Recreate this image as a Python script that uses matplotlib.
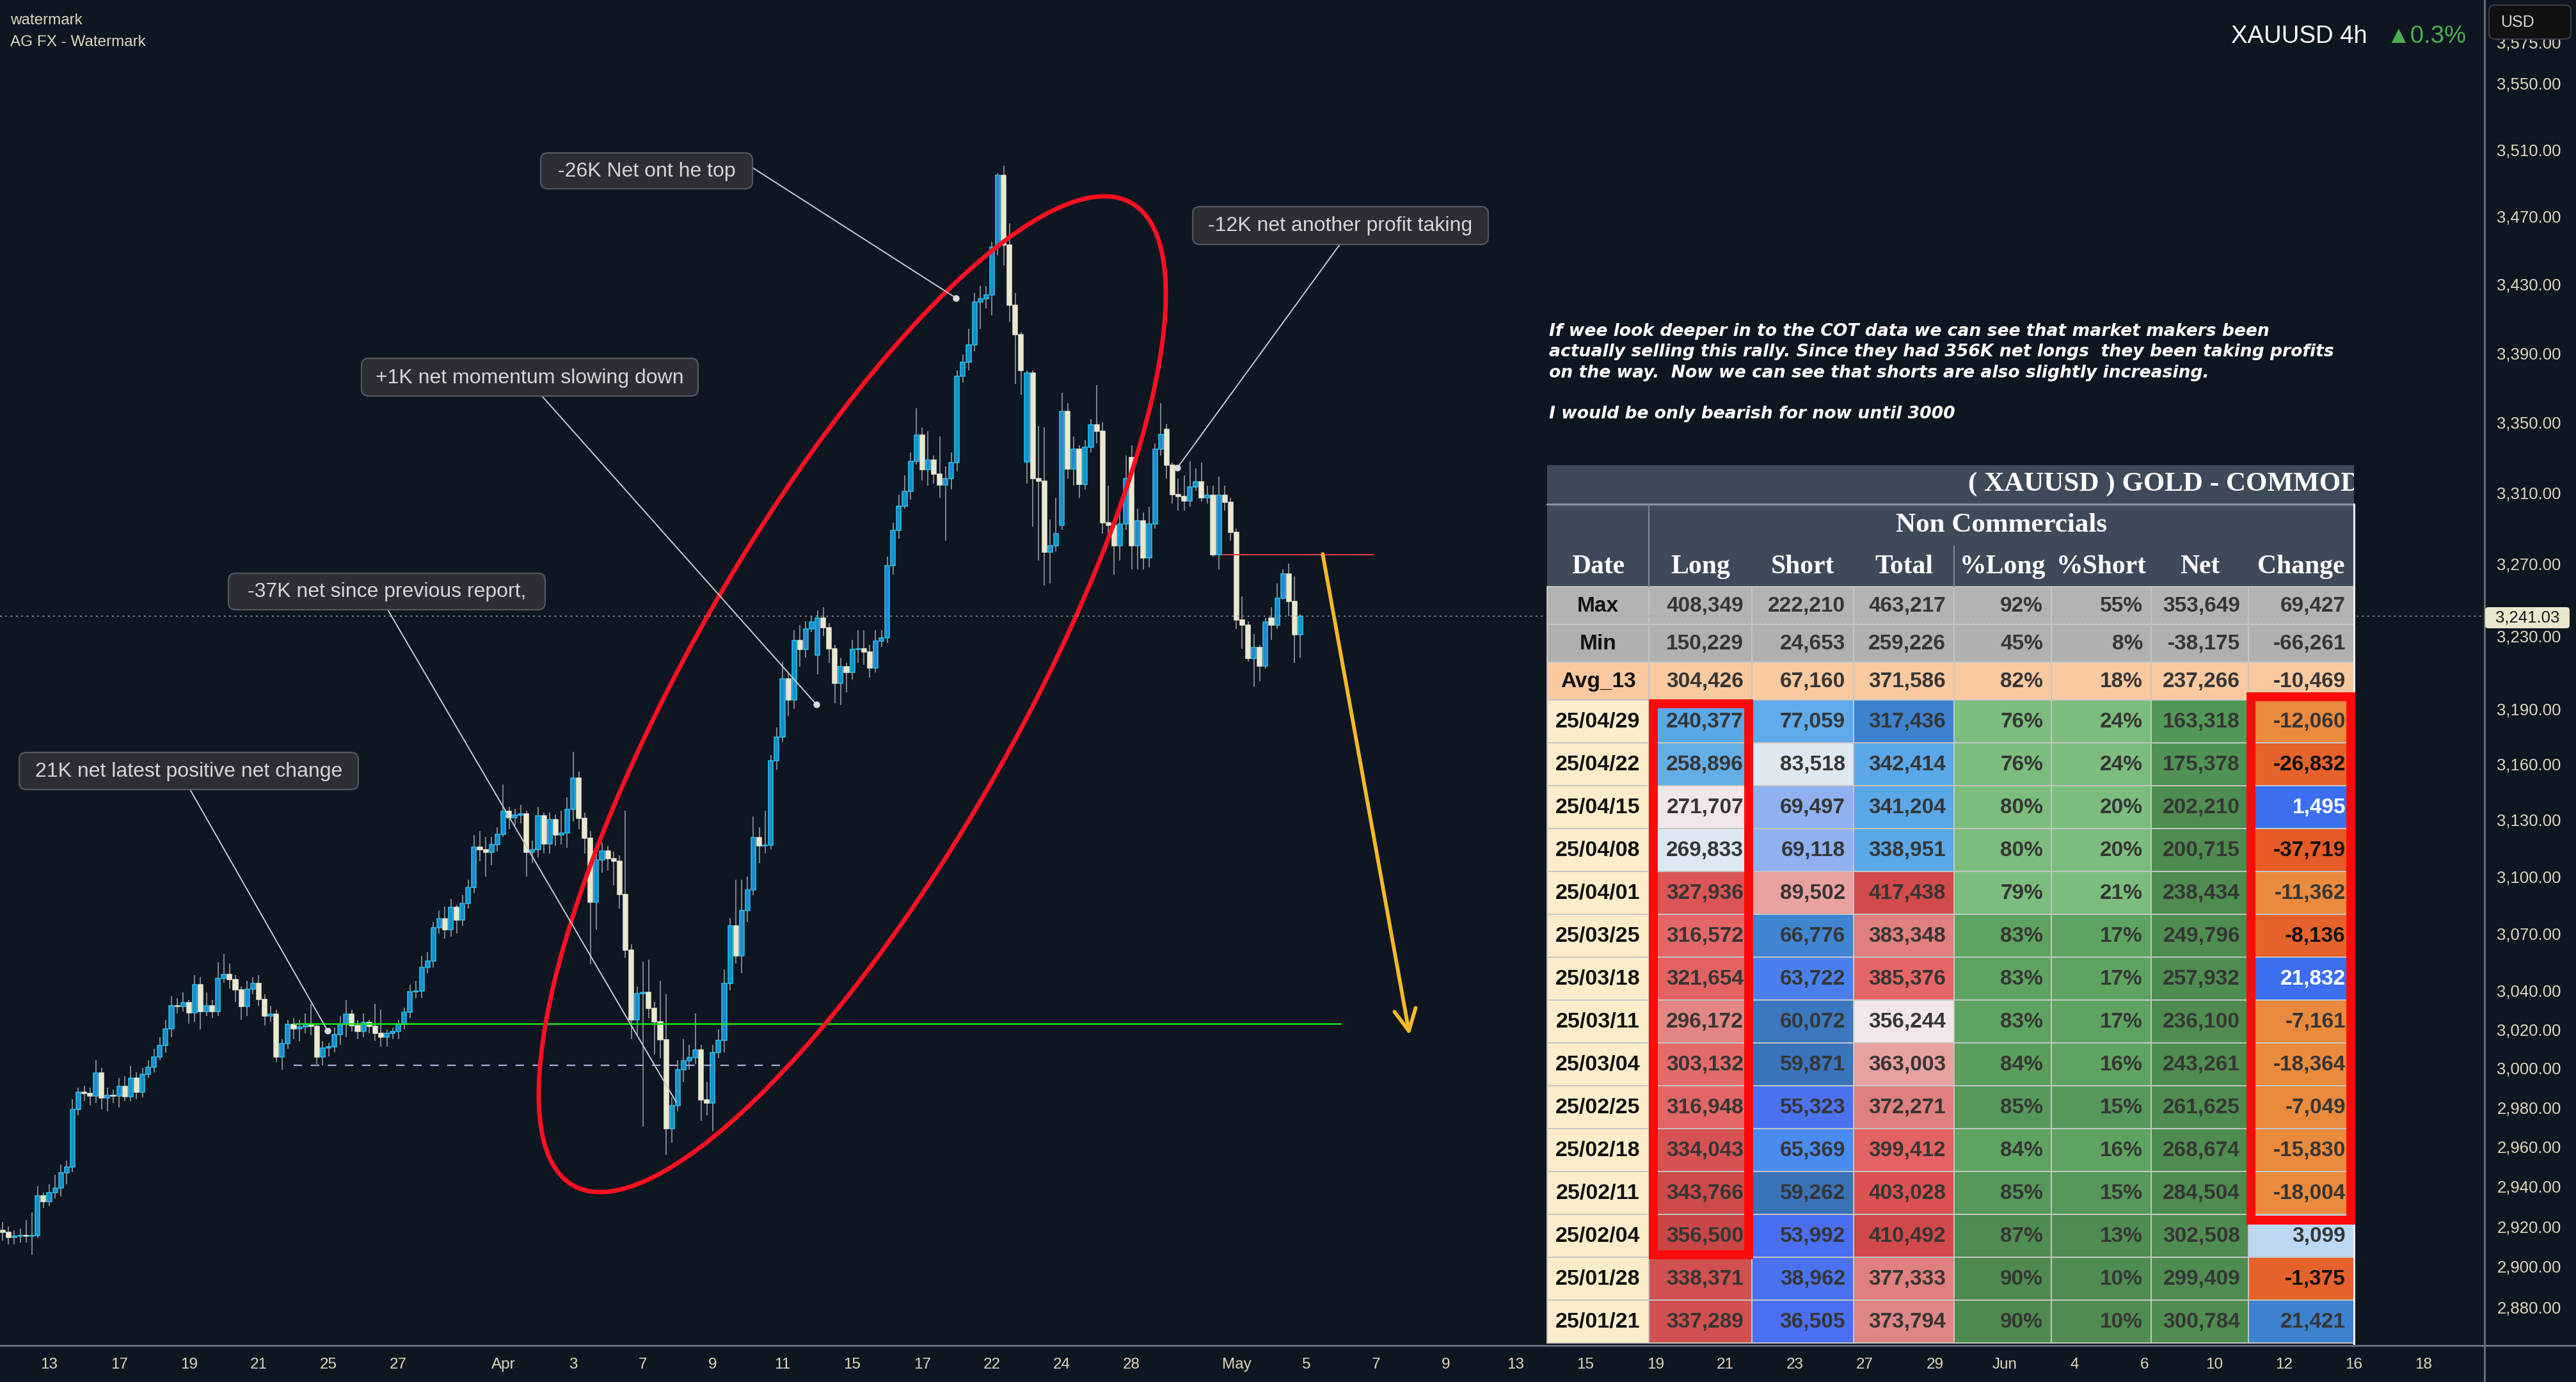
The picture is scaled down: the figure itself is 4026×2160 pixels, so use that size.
import matplotlib

matplotlib.use("Agg")
import matplotlib.pyplot as plt
import matplotlib.transforms as mtransforms
from matplotlib.patches import Rectangle, FancyBboxPatch, Ellipse
from matplotlib.lines import Line2D
from matplotlib.ticker import FixedLocator, NullLocator, FuncFormatter, NullFormatter

plt.rcParams["font.family"] = ["Liberation Sans", "DejaVu Sans"]

BG = "#0e1621"
UP_FACE = "#1a8ccc"
UP_EDGE = "#27c3ef"
DOWN_FACE = "#ebe8d0"
WICK = "#8b8e96"
AXIS_TXT = "#dcd7be"

# ---- 4h candles, XAUUSD ----
opens = [
    2918, 2917, 2914.5, 2915, 2915.5, 2915, 2915.5, 2935.3, 2932.5, 2937,
    2939, 2946.7, 2949.6, 2979, 2987.6, 2987, 2985.8, 2997.5, 2984.9, 2986,
    2985.8, 2990.5, 2985.4, 2995, 2987.6, 2997, 3000.5, 3005.8, 3011.5, 3020.3,
    3032.3, 3031.9, 3033.7, 3028.4, 3043.2, 3029.2, 3032.3, 3029.2, 3046.4, 3048.3,
    3045.7, 3040.3, 3031.7, 3040.7, 3043.8, 3035.4, 3026.9, 3027.8, 3005.7, 3012.7,
    3022.5, 3020.2, 3021.2, 3022.7, 3021.5, 3005.7, 3010.4, 3011, 3017.4, 3022.5,
    3027.8, 3021.9, 3018.9, 3023.5, 3021.5, 3017.8, 3015.9, 3017.8, 3018.9, 3022.7,
    3028.8, 3039.3, 3039.9, 3052.1, 3055.6, 3073, 3077.5, 3071.9, 3083.5, 3077,
    3085.5, 3094.2, 3115.6, 3114, 3112.6, 3117, 3122.4, 3134.7, 3131.3, 3132.7,
    3133.3, 3112.6, 3114, 3132.3, 3117.2, 3130.1, 3121.8, 3123, 3135.7, 3152.4,
    3130.9, 3120.4, 3086.2, 3108.7, 3113.6, 3109.3, 3108.1, 3090.4, 3061, 3025,
    3038.4, 3039, 3030.8, 3023.7, 3014.6, 2969, 2981, 2999, 3003.9, 3005.3,
    3009.5, 2983.9, 2982, 3008.1, 3014.3, 3043.6, 3074, 3058, 3082, 3092.8,
    3120.5, 3116.2, 3116.5, 3161.9, 3174.6, 3206.5, 3194.8, 3227.4, 3222.5, 3233.7,
    3219.5, 3240, 3234.7, 3223, 3204, 3213, 3210, 3222.5, 3223, 3221.3,
    3212.3, 3227.2, 3229, 3269.2, 3288.7, 3302.5, 3310.6, 3327.7, 3342.6, 3323.2,
    3328.6, 3320.6, 3314.4, 3318.1, 3327, 3376.7, 3384.6, 3394.7, 3419.5, 3421.7,
    3423.9, 3451.8, 3494.4, 3453.3, 3417.8, 3400.8, 3327.4, 3378.3, 3318.1, 3316.6,
    3276.6, 3280.1, 3291.6, 3356.3, 3323.3, 3334.7, 3314.9, 3335.8, 3348.7, 3345.1,
    3293.1, 3291.6, 3280.1, 3292.5, 3330.1, 3280.1, 3294.1, 3273.5, 3292.5, 3334.7,
    3346.1, 3325.7, 3309, 3308, 3305.5, 3313.2, 3316.3, 3307, 3308.6, 3275.2,
    3308.6, 3304.5, 3287.5, 3238.8, 3235.8, 3217.6, 3223.6, 3213.5, 3239.8, 3235.8,
    3251, 3264.3, 3249, 3230.6,
]
closes = [
    2917, 2914.5, 2915, 2915.5, 2915, 2915.5, 2935.3, 2932.5, 2937, 2939,
    2946.7, 2949.6, 2979, 2987.6, 2987, 2985.8, 2997.5, 2984.9, 2986, 2985.8,
    2990.5, 2985.4, 2995, 2987.6, 2997, 3000.5, 3005.8, 3011.5, 3020.3, 3032.3,
    3031.9, 3033.7, 3028.4, 3043.2, 3029.2, 3032.3, 3029.2, 3046.4, 3048.3, 3045.7,
    3040.3, 3031.7, 3040.7, 3043.8, 3035.4, 3026.9, 3027.8, 3005.7, 3012.7, 3022.5,
    3020.2, 3021.2, 3022.7, 3021.5, 3005.7, 3010.4, 3011, 3017.4, 3022.5, 3027.8,
    3021.9, 3018.9, 3023.5, 3021.5, 3017.8, 3015.9, 3017.8, 3018.9, 3022.7, 3028.8,
    3039.3, 3039.9, 3052.1, 3055.6, 3073, 3077.5, 3071.9, 3083.5, 3077, 3085.5,
    3094.2, 3115.6, 3114, 3112.6, 3117, 3122.4, 3134.7, 3131.3, 3132.7, 3133.3,
    3112.6, 3114, 3132.3, 3117.2, 3130.1, 3121.8, 3123, 3135.7, 3152.4, 3130.9,
    3120.4, 3086.2, 3108.7, 3113.6, 3109.3, 3108.1, 3090.4, 3061, 3025, 3038.4,
    3039, 3030.8, 3023.7, 3014.6, 2969, 2981, 2999, 3003.9, 3005.3, 3009.5,
    2983.9, 2982, 3008.1, 3014.3, 3043.6, 3074, 3058, 3082, 3092.8, 3120.5,
    3116.2, 3116.5, 3161.9, 3174.6, 3206.5, 3194.8, 3227.4, 3222.5, 3233.7, 3237.8,
    3240, 3234.7, 3223, 3204, 3213, 3210, 3222.5, 3223, 3221.3, 3212.3,
    3227.2, 3229, 3269.2, 3288.7, 3302.5, 3310.6, 3327.7, 3342.6, 3323.2, 3328.6,
    3320.6, 3314.4, 3318.1, 3327, 3376.7, 3384.6, 3394.7, 3419.5, 3421.7, 3423.9,
    3451.8, 3494.4, 3453.3, 3417.8, 3400.8, 3379.9, 3378.3, 3318.1, 3316.6, 3276.6,
    3280.1, 3286.9, 3356.3, 3323.3, 3334.7, 3314.9, 3335.8, 3348.7, 3345.1, 3293.1,
    3291.6, 3280.1, 3292.5, 3318.1, 3280.1, 3294.1, 3273.5, 3292.5, 3334.7, 3343,
    3325.7, 3309, 3308, 3305.5, 3313.2, 3316.3, 3307, 3308.6, 3275.2, 3308.6,
    3304.5, 3287.5, 3238.8, 3235.8, 3217.6, 3223.6, 3213.5, 3237.8, 3235.8, 3251,
    3264.3, 3249, 3230.6, 3241.03,
]
highs = [
    2922, 2920, 2918, 2919, 2923, 2927, 2940, 2937, 2941, 2946,
    2951, 2953, 2984, 2990, 2991, 2990, 3004, 3000, 2990, 2989,
    2995, 2996, 3001, 2998, 3000, 3004, 3010, 3016, 3025, 3037,
    3036, 3039, 3035, 3048, 3047, 3039, 3035, 3054.7, 3059, 3054,
    3048, 3042, 3045, 3047, 3048, 3038, 3032, 3030, 3015, 3025,
    3026, 3025, 3028, 3033, 3023, 3014, 3013, 3021, 3027, 3035,
    3030, 3025, 3028, 3025, 3033, 3030, 3020, 3021, 3025, 3031,
    3043, 3045, 3058, 3060, 3076, 3082, 3084, 3088, 3085, 3090,
    3098, 3122, 3124, 3121, 3121, 3126, 3149, 3137, 3136, 3138,
    3135, 3119, 3137, 3134, 3134, 3133, 3135, 3142, 3166.8, 3156,
    3134, 3124, 3114, 3118, 3116, 3113, 3111, 3135, 3064, 3042,
    3055, 3056, 3034, 3045, 3038, 2985, 3004, 3015, 3012, 3028,
    3012, 2993, 3012, 3020, 3051, 3078, 3098, 3098, 3100, 3132,
    3126, 3135, 3165, 3180, 3216, 3210, 3233, 3236, 3238, 3241,
    3244, 3246, 3237, 3225, 3218, 3215, 3228, 3233, 3233, 3225,
    3233, 3233, 3274, 3293, 3309, 3320, 3333, 3358, 3347, 3345,
    3331, 3342, 3325, 3333, 3380, 3389, 3404, 3425, 3429, 3429,
    3455, 3495.5, 3500.1, 3466, 3425, 3402, 3380, 3380, 3348, 3347,
    3295, 3307, 3367, 3361, 3342, 3337, 3340, 3352, 3371.5, 3350,
    3314, 3295, 3305, 3331, 3337, 3301, 3299, 3302, 3338, 3361,
    3349, 3327, 3318, 3320, 3328, 3324, 3327, 3314, 3314, 3319,
    3314, 3307, 3290, 3252, 3238, 3231, 3225, 3240, 3246, 3259,
    3267, 3270, 3263, 3242,
]
lows = [
    2913, 2911, 2911, 2912, 2912, 2906, 2914, 2929, 2930, 2934,
    2935, 2941, 2947, 2976, 2983, 2981, 2982, 2979, 2978, 2982,
    2980, 2983, 2983, 2984, 2985, 2995, 2998, 3004, 3008, 3016,
    3028, 3029, 3023, 3024, 3020, 3027, 3026, 3027, 3044, 3041,
    3034, 3025, 3027, 3038, 3032, 3022, 3024, 3003, 2999, 3010,
    3015, 3014, 3018, 3017, 3002, 3001.5, 3006, 3008, 3012, 3016,
    3019, 3015, 3016, 3018, 3014, 3011, 3011, 3015, 3015, 3020,
    3026, 3036, 3036, 3049, 3052, 3070, 3067, 3068, 3070, 3074,
    3083, 3091, 3108, 3100, 3106, 3113, 3121, 3125, 3127, 3128,
    3100, 3107, 3110, 3112, 3112, 3116, 3117, 3115, 3129, 3125,
    3112, 3053.7, 3072, 3102, 3103, 3095, 3083, 3057, 3015, 3017,
    2970, 3026, 3007, 3005, 2956, 2962, 2978, 2993, 2999, 3002,
    2973, 2976, 2968, 3005, 3008, 3040, 3054, 3049, 3076, 3090,
    3107, 3112, 3114, 3157, 3172, 3186, 3190, 3213, 3218, 3232,
    3209, 3230, 3215, 3193, 3192, 3199, 3206, 3215, 3214, 3207,
    3210, 3224, 3226, 3264, 3284, 3301, 3306, 3326, 3317, 3314,
    3315, 3307, 3283, 3312, 3322, 3373, 3380, 3391, 3404, 3416,
    3412, 3447, 3441, 3408, 3372, 3366, 3315, 3291, 3272, 3258,
    3259, 3277, 3289, 3318, 3314, 3307, 3312, 3333, 3338, 3287,
    3283, 3264, 3272, 3289, 3267, 3267, 3267, 3268, 3290, 3331,
    3318, 3304, 3300, 3300, 3302, 3311, 3305, 3304, 3274, 3267,
    3300, 3283, 3234, 3223, 3216, 3202, 3205, 3212, 3228, 3234,
    3250, 3241, 3215, 3218,
]
FIRST_BAR_DAY = -4 / 3     # third 4h bar of Mar 12, in trading-day units (Mar 13 = 0)
BARS_PER_DAY = 6
last_price = 3241.03

# x axis: trading-day index of each date label
tick_labels = ["13", "17", "19", "21", "25", "27", "Apr", "3", "7", "9", "11", "15", "17",
               "22", "24", "28", "May", "5", "7", "9", "13", "15", "19", "21", "23", "27",
               "29", "Jun", "4", "6", "10", "12", "16", "18"]
tick_days = [0, 2, 4, 6, 8, 10, 13, 15, 17, 19, 21, 23, 25, 27, 29, 31, 34, 36, 38, 40,
             42, 44, 46, 48, 50, 52, 54, 56, 58, 60, 62, 64, 66, 68]
price_ticks = [3575, 3550, 3510, 3470, 3430, 3390, 3350, 3310, 3270, 3230, 3190, 3160,
               3130, 3100, 3070, 3040, 3020, 3000, 2980, 2960, 2940, 2920, 2900, 2880]

# drawn levels
support_level = 3023
support_days = (7.0, 37.0)
prev_low_level = 3001.5
prev_low_days = (7.0, 20.95)
resist_level = 3275.2
resist_days = (33.59, 37.93)
target_arrow = ((36.47, 3275.5), (38.96, 3017.0))

# callouts: text, box (x0, y0, x1, y1 px from top-left), line start px, target (day, price)
callout_text = ["-26K Net ont he top", "-12K net another profit taking",
                "+1K net momentum slowing down", "-37K net since previous report,",
                "21K net latest positive net change"]
callout_box = [(845, 239, 1176, 295), (1864, 323, 2326, 382), (565, 560, 1091, 619),
               (357, 896, 852, 953), (30, 1176, 560, 1234)]
callout_from = [(1176, 262), (2094, 382), (847, 619), (606, 953), (297, 1234)]
callout_to = [(25.97, 3422.0), (32.31, 3324.2), (21.97, 3192.4), (17.96, 2982.5), (7.97, 3019.3)]
callout_dot = [True, True, True, False, True]

# ---- COT table ----
table_dates = ["25/04/29", "25/04/22", "25/04/15", "25/04/08", "25/04/01", "25/03/25",
               "25/03/18", "25/03/11", "25/03/04", "25/02/25", "25/02/18", "25/02/11",
               "25/02/04", "25/01/28", "25/01/21"]
longs = [240377, 258896, 271707, 269833, 327936, 316572, 321654, 296172, 303132, 316948,
         334043, 343766, 356500, 338371, 337289]
shorts = [77059, 83518, 69497, 69118, 89502, 66776, 63722, 60072, 59871, 55323, 65369,
          59262, 53992, 38962, 36505]
totals = [317436, 342414, 341204, 338951, 417438, 383348, 385376, 356244, 363003, 372271,
          399412, 403028, 410492, 377333, 373794]
pct_long = [76, 76, 80, 80, 79, 83, 83, 83, 84, 85, 84, 85, 87, 90, 90]
pct_short = [24, 24, 20, 20, 21, 17, 17, 17, 16, 15, 16, 15, 13, 10, 10]
nets = [163318, 175378, 202210, 200715, 238434, 249796, 257932, 236100, 243261, 261625,
        268674, 284504, 302508, 299409, 300784]
changes = [-12060, -26832, 1495, -37719, -11362, -8136, 21832, -7161, -18364, -7049,
           -15830, -18004, 3099, -1375, 21421]
stat_names = ["Max", "Min", "Avg_13"]
stat_values = [
    [408349, 222210, 463217, 92, 55, 353649, 69427],
    [150229, 24653, 259226, 45, 8, -38175, -66261],
    [304426, 67160, 371586, 82, 18, 237266, -10469],
]
col_names = ["Date", "Long", "Short", "Total", "%Long", "%Short", "Net", "Change"]

long_bg = ["#5aa8e6", "#64aee8", "#f3e6ea", "#dde8f2", "#dc5555", "#e46666", "#e36262",
           "#e28585", "#e46a6a", "#e26666", "#d65252", "#cc4a4a", "#c84646", "#d14f4f", "#d14f4f"]
short_bg = ["#5eaaea", "#dfe8f1", "#8fb1ef", "#8fb1ef", "#e9a1a1", "#3f85d1", "#4a80ee",
            "#3b78c0", "#3a74bb", "#4a72ef", "#4a8bf0", "#3a72b8", "#4a6ef0", "#4a72f0", "#4a6ff0"]
total_bg = ["#3d82cf", "#5aa8e8", "#5aa8e8", "#5aa8e8", "#d24a4a", "#e17e7e", "#e56666",
            "#f3e6ea", "#e8a0a0", "#e07f7f", "#e36262", "#dc5151", "#d14949", "#e07f7f", "#e08585"]
plong_bg = ["#7cbd7e"] * 5 + ["#5ea460", "#5ea460", "#5ea460", "#5a9f5c", "#55985a",
                              "#5ea460", "#55985a", "#4f8c52", "#4e8a50", "#4e8a50"]
pshort_bg = ["#7cbd7e"] * 5 + ["#5ea460"] * 4 + ["#55985a", "#5ea460", "#55985a",
                                                  "#4f8c52", "#4f8c52", "#4f8c52"]
net_bg = ["#529857", "#4f9253"] + ["#4e8c50"] * 13
change_bg = ["#ea8a3d", "#e5622b", "#3b6ff0", "#e55a26", "#ea8a3d", "#e5622b", "#3b6ff0",
             "#ea8a3d", "#ea8a3d", "#ea8a3d", "#ea8a3d", "#ea8a3d", "#bcd8f2", "#e5622b", "#3d82cf"]
change_fg = ["#363636", "#111111", "#ffffff", "#111111", "#363636", "#111111", "#ffffff",
             "#363636", "#363636", "#363636", "#363636", "#363636", "#363636", "#111111", "#363636"]
stat_bg = ["#b3b3b3", "#b0b0b0", "#f9c9a0"]

commentary = [
    "If wee look deeper in to the COT data we can see that market makers been",
    "actually selling this rally. Since they had 356K net longs  they been taking profits",
    "on the way.  Now we can see that shorts are also slightly increasing.",
    "",
    "I would be only bearish for now until 3000",
]

# ---------------------------------------------------------------------------
W, H = 4026, 2160
fig = plt.figure(figsize=(W / 100, H / 100), dpi=100, facecolor=BG)
PX = mtransforms.Affine2D().scale(1 / 100, -1 / 100).translate(0, H / 100) + fig.dpi_scale_trans
ax = fig.add_axes([0, 57 / H, 3883 / W, 2103 / H])
ax.set_facecolor(BG)
for spine in ax.spines.values():
    spine.set_visible(False)

ax.set_yscale("log")
ax.set_ylim(2861.1, 3600.8)
ax.set_xlim(-1.411, 69.745)

bar_x = [FIRST_BAR_DAY + k / BARS_PER_DAY for k in range(len(closes))]
ax.vlines(bar_x, lows, highs, color=WICK, lw=1.3, zorder=3)
up = [c >= o for o, c in zip(opens, closes)]
for want, face, edge in ((True, UP_FACE, UP_EDGE), (False, DOWN_FACE, DOWN_FACE)):
    xs = [x for x, u in zip(bar_x, up) if u == want]
    bots = [min(o, c) for o, c, u in zip(opens, closes, up) if u == want]
    hts = [max(abs(c - o), 0.4) for o, c, u in zip(opens, closes, up) if u == want]
    ax.bar(xs, hts, bottom=bots, width=0.78 / BARS_PER_DAY, color=face, edgecolor=edge,
           linewidth=1.1, zorder=3.5)

# axes ticks
ax.yaxis.tick_right()
ax.yaxis.set_major_locator(FixedLocator(price_ticks))
ax.yaxis.set_minor_locator(NullLocator())
ax.yaxis.set_major_formatter(FuncFormatter(lambda v, _: f"{v:,.2f}"))
ax.yaxis.set_minor_formatter(NullFormatter())
ax.xaxis.set_major_locator(FixedLocator(tick_days))
ax.set_xticklabels(tick_labels)
ax.tick_params(axis="y", length=0, pad=14, labelsize=18.5, labelcolor=AXIS_TXT)
ax.tick_params(axis="x", length=0, pad=14, labelsize=17.5, labelcolor=AXIS_TXT)

# drawn levels
ax.hlines(support_level, *support_days, color="#1ee61e", lw=1.8, zorder=4)
ax.hlines(prev_low_level, *prev_low_days, color="#a9acdc", lw=1.6, linestyles=(0, (6, 6)), zorder=4)
ax.hlines(resist_level, *resist_days, color="#f23645", lw=1.5, zorder=4)
ax.annotate("", xy=target_arrow[1], xytext=target_arrow[0],
            arrowprops=dict(arrowstyle="->,head_length=1.1,head_width=0.55", color="#f7b924",
                            lw=4.2, shrinkA=0, shrinkB=0, mutation_scale=22), zorder=5)

# red ellipse around the rally
ax.add_patch(Ellipse((1332, 1085), 2 * 883, 2 * 257, angle=-60.4, transform=PX,
                     fill=False, ec="#ff1020", lw=5.0, zorder=5))

# last price line
ax.axhline(last_price, color="#9da0a8", lw=1.2, ls=(0, (1.5, 3.5)), zorder=9)

# callouts
for txt, (x0, y0, x1, y1), start, target, dot in zip(callout_text, callout_box, callout_from,
                                                     callout_to, callout_dot):
    ax.annotate("", xy=target, xycoords="data", xytext=start, textcoords=PX,
                arrowprops=dict(arrowstyle="-", color="#c9cbd1", lw=1.4, shrinkA=0, shrinkB=0),
                zorder=8)
    if dot:
        ax.plot([target[0]], [target[1]], "o", ms=6.5, color="#d8dade", zorder=8)
    ax.add_patch(FancyBboxPatch((x0, y0), x1 - x0, y1 - y0,
                                boxstyle="round,pad=0,rounding_size=11", transform=PX,
                                fc="#2b2e35", ec="#54575f", lw=1.6, zorder=8.5))
    ax.text((x0 + x1) / 2, (y0 + y1) / 2 + 1, txt, transform=PX, ha="center", va="center",
            fontsize=23, color="#d4d6da", zorder=9)

# commentary
for i, line in enumerate(commentary):
    if line:
        ax.text(2421, 518 + 32.3 * i, line, transform=PX, ha="left", va="center",
                fontsize=19.2, color="white", family="DejaVu Sans", fontweight="bold",
                style="oblique", zorder=9)

# ---- table ----
SLATE = "#3e4a5a"
col_edges = [2418, 2577, 2738, 2897, 3054, 3206, 3362, 3514, 3679]
T_TOP, T_MID, H_MID, H_BOT = 727, 788, 854, 917
STAT_H, ROW_H = 59, 67
ROW0 = H_BOT + 3 * STAT_H
SERIF = "Liberation Serif"


def cell(x0, x1, y0, h, fc, text="", fg="#363636", center=False, size=24):
    ax.add_patch(Rectangle((x0, y0), x1 - x0, h, transform=PX, fc=fc, ec="#c6c6c6",
                           lw=1.4, zorder=6))
    if text:
        tx = (x0 + x1) / 2 if center else x1 - 13
        ax.text(tx, y0 + h / 2 + 1, text, transform=PX, ha="center" if center else "right",
                va="center", fontsize=size, fontweight="bold", color=fg, zorder=6.5)


title_rect = Rectangle((col_edges[0], T_TOP), col_edges[-1] - col_edges[0], H_BOT - T_TOP,
                       transform=PX, fc=SLATE, ec="none", zorder=6)
ax.add_patch(title_rect)
# the pasted table image cuts its title off at the right edge
title = ax.text(3076, 757, "( XAUUSD ) GOLD - COMMODITY", transform=PX, ha="left",
                va="center", fontsize=31, family=SERIF, fontweight="bold", color="white",
                zorder=6.5)
title.set_clip_on(True)
title.set_clip_path(title_rect)
ax.add_line(Line2D([col_edges[0], col_edges[-1]], [T_MID, T_MID], transform=PX,
                   color="#8c96a3", lw=2.2, zorder=6.6))
ax.add_line(Line2D([col_edges[1], col_edges[1]], [T_MID, H_BOT], transform=PX,
                   color="#7d8794", lw=1.6, zorder=6.6))
ax.add_line(Line2D([col_edges[4], col_edges[4]], [H_MID, H_BOT], transform=PX,
                   color="#7d8794", lw=1.6, zorder=6.6))
ax.text((col_edges[1] + col_edges[-1]) / 2, 821, "Non Commercials", transform=PX, ha="center",
        va="center", fontsize=31, family=SERIF, fontweight="bold", color="white", zorder=6.5)
for j, name in enumerate(col_names):
    ax.text((col_edges[j] + col_edges[j + 1]) / 2, 886, name, transform=PX, ha="center",
            va="center", fontsize=30, family=SERIF, fontweight="bold", color="white", zorder=6.5)

for r, (name, vals) in enumerate(zip(stat_names, stat_values)):
    y0 = H_BOT + r * STAT_H
    cell(col_edges[0], col_edges[1], y0, STAT_H, stat_bg[r], name, "#111111", center=True)
    for j, v in enumerate(vals):
        txt = f"{v}%" if j in (3, 4) else f"{v:,}"
        cell(col_edges[j + 1], col_edges[j + 2], y0, STAT_H, stat_bg[r], txt)

for i in range(len(table_dates)):
    y0 = ROW0 + i * ROW_H
    row = [(f"{longs[i]:,}", long_bg[i], "#363636"),
           (f"{shorts[i]:,}", short_bg[i], "#363636"),
           (f"{totals[i]:,}", total_bg[i], "#363636"),
           (f"{pct_long[i]}%", plong_bg[i], "#363636"),
           (f"{pct_short[i]}%", pshort_bg[i], "#363636"),
           (f"{nets[i]:,}", net_bg[i], "#363636"),
           (f"{changes[i]:,}", change_bg[i], change_fg[i])]
    cell(col_edges[0], col_edges[1], y0, ROW_H, "#fcecca", table_dates[i], "#111111",
         center=True, size=24.5)
    for j, (txt, fc, fg) in enumerate(row):
        cell(col_edges[j + 1], col_edges[j + 2], y0, ROW_H, fc, txt, fg)

ax.add_line(Line2D([col_edges[-1], col_edges[-1]], [T_MID, 2100], transform=PX,
                   color="#f2f2f2", lw=2.2, zorder=6.7))
# red highlight boxes
ax.add_patch(Rectangle((2584, 1100), 149, 861, transform=PX, fill=False, ec="#ff0a0a",
                       lw=10, zorder=7))
ax.add_patch(Rectangle((3518, 1089), 156, 818, transform=PX, fill=False, ec="#ff0a0a",
                       lw=10, zorder=7))

# ---- frame, header texts ----
fig.add_artist(Line2D([3883, 3883], [0, H], transform=PX, color="#6f727a", lw=2.0))
fig.add_artist(Line2D([0, W], [2103, 2103], transform=PX, color="#6f727a", lw=2.0))

fig.add_artist(FancyBboxPatch((3884, 949), 132, 33, boxstyle="round,pad=0,rounding_size=5",
                              transform=PX, fc="#ebe7cc", ec="none", zorder=10))
fig.text(3950, 966, f"{last_price:,.2f}", transform=PX, ha="center", va="center",
         fontsize=18.5, color="#131722", zorder=11)

fig.add_artist(FancyBboxPatch((3890, 8), 128, 53, boxstyle="round,pad=0,rounding_size=9",
                              transform=PX, fc="#111111", ec="#3a3c42", lw=1.5, zorder=10))
fig.text(3908, 35, "USD", transform=PX, ha="left", va="center", fontsize=18, color="#d1d4dc",
         zorder=11)

fig.text(3487, 57, "XAUUSD 4h", transform=PX, ha="left", va="center", fontsize=27.5,
         color="white")
fig.text(3729, 57, "\u25b20.3%", transform=PX, ha="left", va="center", fontsize=27.5,
         color="#4caf50")

fig.text(16, 32, "watermark", transform=PX, ha="left", va="center", fontsize=17.5,
         color="#dcd8bf")
fig.text(16, 66, "AG FX - Watermark", transform=PX, ha="left", va="center", fontsize=17.5,
         color="#dcd8bf")

fig.savefig("out.png", dpi=100, facecolor=BG)
